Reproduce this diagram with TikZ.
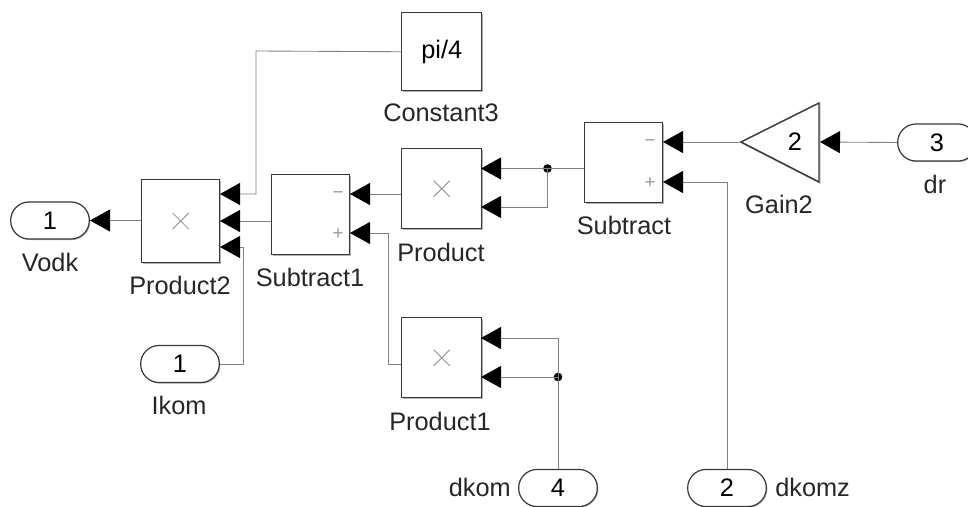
\documentclass[tikz,border=0pt]{standalone}
\usepackage{fontspec}
\setmainfont{Liberation Sans}
\usetikzlibrary{arrows.meta,shadows}
\tikzset{
  block/.style={draw=black!78,line width=1.1pt,fill=white,minimum width=60pt,minimum height=60pt,inner sep=0pt,anchor=north west,drop shadow={shadow xshift=1pt,shadow yshift=-1pt,fill=black,opacity=.3}},
  pill/.style={draw=black!78,line width=.9pt,fill=white,rounded corners=13.8pt,minimum width=59pt,minimum height=27.8pt,inner sep=0pt,font=\fontsize{19}{19}\selectfont,drop shadow={shadow xshift=.8pt,shadow yshift=-.8pt,fill=black,opacity=.25}},
  lbl/.style={font=\fontsize{19}{19}\selectfont,text=black!85,inner sep=0pt},
  sgn/.style={font=\fontsize{14}{14}\selectfont,text=black!40,inner sep=0pt},
  wire/.style={draw=black!50,line width=.65pt},
  arr/.style={wire,-{Triangle[length=15pt,width=16.5pt,fill=black,color=black]}},
  dotj/.style={circle,fill=black,minimum size=6.5pt,inner sep=0pt},
  crossm/.style={draw=black!45,line width=.6pt}
}
\newcommand{\multmark}[1]{%
  \draw[crossm] ([shift={(-8,-8)}]#1.center) -- ([shift={(8,8)}]#1.center);
  \draw[crossm] ([shift={(-8,8)}]#1.center) -- ([shift={(8,-8)}]#1.center);}
\begin{document}
\begin{tikzpicture}[x=.75pt,y=-.75pt]
\useasboundingbox (0,0) rectangle (968,507);
% blocks
\node[block,minimum width=58.5pt,minimum height=62pt] (p2) at (141,179) {};
\node[block,minimum width=58.5pt,minimum height=60pt] (s1) at (271,174) {};
\node[block] (pr) at (401,148) {};
\node[block] (p1) at (401,317) {};
\node[block,minimum width=58.5pt,minimum height=60pt] (su) at (584,122) {};
\node[block,minimum width=60pt,minimum height=58.5pt,font=\fontsize{19}{19}\selectfont] (co) at (401,12) {pi/4};
\draw[draw=black,opacity=.25,line width=1.1pt,line join=miter] (742,143) -- (820,104) -- (820,183) -- cycle;
\draw[draw=black!78,line width=1.1pt,fill=white,line join=miter] (741,142) -- (819,103) -- (819,182) -- cycle;
\coordinate (gt) at (741,142);
\node[font=\fontsize{19}{19}\selectfont,inner sep=0pt] (gn) at (795,142) {2};
\coordinate (ge) at (820,142);
% pills
\node[pill] (vo) at (50,220.5) {1};
\node[pill] (ik) at (180,364) {1};
\node[pill] (i3) at (937,142.5) {3};
\node[pill] (i4) at (558,488) {4};
\node[pill] (i2) at (727,488) {2};
% labels
\node[lbl] (l1) at (50,262) {Vodk};
\node[lbl] (l2) at (180,285) {Product2};
\node[lbl] (l3) at (310,277) {Subtract1};
\node[lbl] (l4) at (441,252) {Product};
\node[lbl] (l5) at (441,113) {Constant3};
\node[lbl] (l6) at (624,225) {Subtract};
\node[lbl] (l7) at (779,204) {Gain2};
\node[lbl] (l8) at (935,184) {dr};
\node[lbl] (l9) at (179,405) {Ikom};
\node[lbl] (l10) at (440,421) {Product1};
\node[lbl,anchor=east] (l11) at (511,487) {dkom};
\node[lbl,anchor=west] (l12) at (775,487) {dkomz};
% signs
\node[sgn] (m1) at (338,195) {−};
\node[sgn] (q1) at (338,234) {+};
\node[sgn] (m2) at (650,143) {−};
\node[sgn] (q2) at (650,183) {+};
\multmark{p2}\multmark{pr}\multmark{p1}
% ports
\coordinate (p2a) at (220,194);
\coordinate (p2b) at (220,221);
\coordinate (p2c) at (220,247);
\coordinate (s1a) at (350,194);
\coordinate (s1b) at (350,233);
\coordinate (pra) at (481,168.5);
\coordinate (prb) at (481,207);
\coordinate (p1a) at (481,338);
\coordinate (p1b) at (481,377);
\coordinate (sua) at (663,142);
\coordinate (sub) at (663,182);
\coordinate (vp) at (90,220.5);
% junctions
\node[dotj] (j1) at (547.5,168.5) {};
\node[dotj] (j2) at (558,377) {};
% wires
\draw[arr] (p2.west |- vp) -- (vp);
\draw[arr] (co.west) -- (256,51) -- (256,194) -- (p2a);
\draw[arr] (s1.west |- p2b) -- (p2b);
\draw[arr] (ik.east) -- (243,364) -- (243,247) -- (p2c);
\draw[arr] (pr.west |- s1a) -- (s1a);
\draw[arr] (p1.west |- 0,364) -- (388,364) -- (388,233) -- (s1b);
\draw[arr] (su.west |- j1) -- (pra);
\draw[arr] (j1.center) -- (547.5,207) -- (prb);
\draw[arr] (i4.north) -- (558,338) -- (p1a);
\draw[arr] (j2.center) -- (p1b);
\draw[arr] (gt) -- (sua);
\draw[arr] (i2.north) -- (727,182) -- (sub);
\draw[arr] (i3.west) -- (ge);
\end{tikzpicture}
\end{document}
